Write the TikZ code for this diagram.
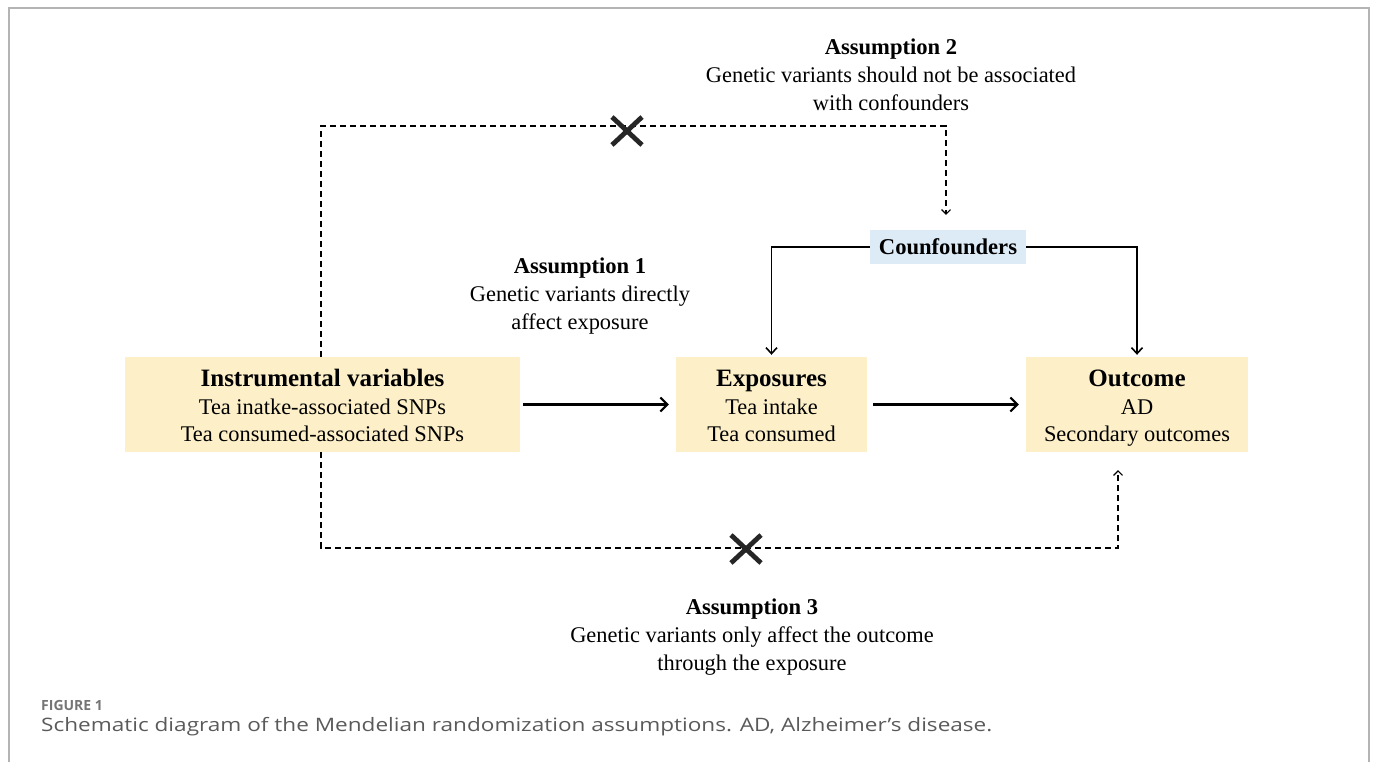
\documentclass[tikz,border=0pt]{standalone}
\usepackage{fontspec}
\setmainfont{Liberation Serif}
\newfontfamily\capfont{Open Sans}
\usetikzlibrary{arrows.meta}
\definecolor{boxyellow}{HTML}{FDF0C9}
\definecolor{boxblue}{HTML}{DDEBF7}
\definecolor{framegray}{HTML}{B4B4B4}
\definecolor{capgray}{HTML}{5A5A5A}
\definecolor{figgray}{HTML}{757575}
\definecolor{crossgray}{HTML}{262626}
\newcommand{\headA}[1]{{\fontsize{25}{27.5}\selectfont\bfseries #1}}
\newcommand{\headB}[1]{{\fontsize{22.6}{27.5}\selectfont\bfseries #1}}
\newcommand{\topstrut}{\rule{0pt}{28pt}}
\begin{document}
\begin{tikzpicture}[x=1pt,y=-1pt,
  box/.style={fill=boxyellow, align=center, inner sep=0pt, minimum height=95pt,
              font=\fontsize{22.4}{27.5}\selectfont},
  confbox/.style={fill=boxblue, align=center, inner sep=0pt, minimum width=156pt,
              minimum height=34pt, font=\fontsize{22.6}{24}\selectfont\bfseries},
  note/.style={align=center, font=\fontsize{22.4}{28}\selectfont},
  mainarrow/.style={line width=2.4pt, -{Straight Barb[length=7pt,width=14pt,line width=2pt]}},
  confarrow/.style={line width=1.8pt, -{Straight Barb[length=6pt,width=11pt,line width=1.6pt]}},
  dasharrow/.style={line width=1.3pt, dash pattern=on 6pt off 4pt,
              -{Straight Barb[length=4.5pt,width=9pt,line width=1.1pt]}},
  crossline/.style={line width=4.8pt, crossgray},
]
\useasboundingbox (0,0) rectangle (1375,762);
\draw[framegray, line width=1.3pt] (9,762) -- (9,8) -- (1369,8) -- (1369,762);

% boxes
\node[box, minimum width=395pt] (iv) at (322.5,404.5)
  {\topstrut\headA{Instrumental variables}\\Tea inatke-associated SNPs\\Tea consumed-associated SNPs\strut};
\node[box, minimum width=191pt] (exp) at (771.5,404.5)
  {\topstrut\headA{Exposures}\\Tea intake\\Tea consumed\strut};
\node[box, minimum width=222pt] (out) at (1137,404.5)
  {\topstrut\headA{Outcome}\\AD\\Secondary outcomes\strut};
\node[confbox] (conf) at (948,247) {Counfounders};

% assumption texts
\node[note] (a2) at (891,77)
  {\strut\headB{Assumption 2}\\Genetic variants should not be associated\\with confounders\strut};
\node[note] (a1) at (580,296)
  {\strut\headB{Assumption 1}\\Genetic variants directly\\affect exposure\strut};
\node[note] (a3) at (752,637)
  {\strut\headB{Assumption 3}\\Genetic variants only affect the outcome\\through the exposure\strut};

% main arrows
\draw[mainarrow, shorten <=3pt, shorten >=7pt] (iv) -- (exp);
\draw[mainarrow, shorten <=6pt, shorten >=7pt] (exp) -- (out);

% confounder arrows
\draw[confarrow, shorten >=2pt] (conf.west) -| (exp.north);
\draw[confarrow, shorten >=2pt] (conf.east) -| (out.north);

% dashed paths
\coordinate (t1) at (321,126);
\coordinate (t2) at (946,126);
\coordinate (b1) at (321,548);
\coordinate (b2) at (1118,548);
\draw[dasharrow, shorten >=15pt] (iv.north -| t1) -- (t1) -- (t2) -- (t2 |- conf.north);
\draw[dasharrow, shorten >=18pt] (iv.south -| b1) -- (b1) -- (b2) -- (b2 |- out.south);

% crosses
\coordinate (x1) at (627,131);
\coordinate (x2) at (746,549);
\foreach \c in {x1,x2}{
  \draw[crossline] ([shift={(-15,-14)}]\c) -- ([shift={(15,14)}]\c);
  \draw[crossline] ([shift={(-15,14)}]\c) -- ([shift={(15,-14)}]\c);
}

% caption
\node[anchor=base west, inner sep=0pt, text=figgray, font=\capfont\fontsize{14}{16}\selectfont\bfseries] (fig) at (41,710) {FIGURE 1};
\node[anchor=base west, inner sep=0pt, text=capgray, font=\capfont\fontsize{18.5}{20}\selectfont] (cap) at (41,731)
  {\scalebox{1.22}[1]{Schematic diagram of the Mendelian randomization assumptions. AD, Alzheimer’s disease.}};
\end{tikzpicture}
\end{document}
